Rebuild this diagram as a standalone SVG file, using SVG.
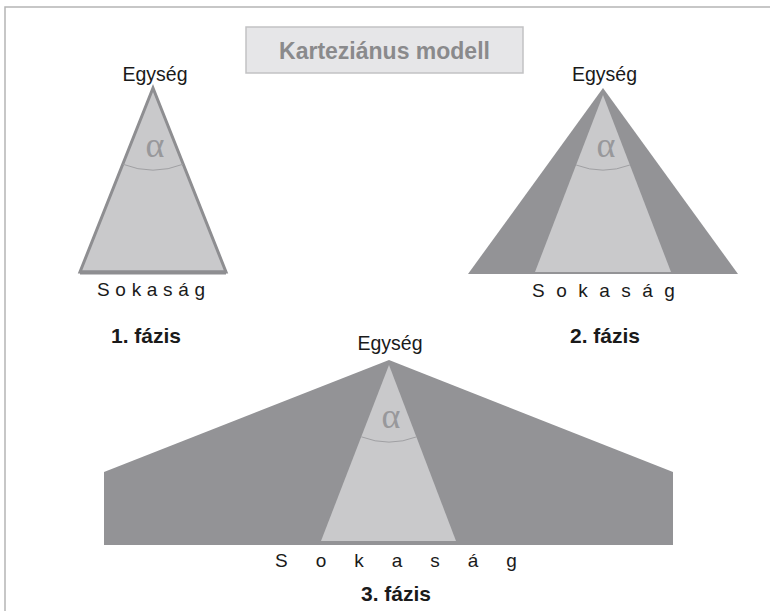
<svg xmlns="http://www.w3.org/2000/svg" width="770" height="611" viewBox="0 0 770 611">
<style>
.lbl{font-family:"Liberation Sans",Arial,sans-serif;font-size:19.5px;fill:#1a1a1a}
.sok{font-family:"Liberation Sans",Arial,sans-serif;font-size:19px;fill:#1a1a1a}
.ph{font-family:"Liberation Sans",Arial,sans-serif;font-size:21px;font-weight:bold;fill:#1a1a1a}
.alpha{font-family:"Liberation Serif","Times New Roman",serif;font-size:36px;fill:#98989b}
.arc{fill:none;stroke:#a0a0a3;stroke-width:1}
.light{fill:#c9c9cb}
.dark{fill:#939396}
</style>
<rect width="770" height="611" fill="#ffffff"/>
<path d="M5 611 V7 H770" fill="none" stroke="#b5b5b5" stroke-width="1.5"/>
<g id="title">
<rect x="246" y="27" width="277" height="46" fill="#e6e6e8" stroke="#c2c2c4" stroke-width="1.5"/>
<text x="384.5" y="59" text-anchor="middle" font-family="'Liberation Sans',Arial,sans-serif" font-size="23" font-weight="bold" fill="#8a8a8c">Karteziánus modell</text>
</g>
<g id="phase1">
<text class="lbl" x="155" y="81" text-anchor="middle">Egység</text>
<polygon class="light" points="153,88 80,272 226,272" stroke="#8e8e91" stroke-width="3" stroke-linejoin="miter"/>
<line x1="80" y1="272.5" x2="226" y2="272.5" stroke="#8e8e91" stroke-width="4"/>
<text class="alpha" x="155" y="157" text-anchor="middle">α</text>
<path class="arc" d="M122.8 164.2 A82 82 0 0 0 183.2 164.2"/>
<text class="sok" x="97" y="296" letter-spacing="5.7">Sokaság</text>
<text class="ph" x="111" y="343">1. fázis</text>
</g>
<g id="phase2">
<text class="lbl" x="604.5" y="81" text-anchor="middle">Egység</text>
<polygon class="dark" points="603,88 468,274 738,274"/>
<polygon class="light" points="603,95 535,272 671,272"/>
<text class="alpha" x="606" y="157" text-anchor="middle">α</text>
<path class="arc" d="M576.1 165 A75 75 0 0 0 629.9 165"/>
<text class="sok" x="532" y="297" letter-spacing="11.5">Sokaság</text>
<text class="ph" x="570" y="343">2. fázis</text>
</g>
<g id="phase3">
<text class="lbl" x="390" y="350" text-anchor="middle">Egység</text>
<polygon class="dark" points="389,360 673,472 673,545 104,545 104,472"/>
<polygon class="light" points="389,365 321,541 456,541"/>
<text class="alpha" x="391" y="428" text-anchor="middle">α</text>
<path class="arc" d="M361.3 436.8 A77 77 0 0 0 416.7 436.8"/>
<text class="sok" x="275" y="567" letter-spacing="28">Sokaság</text>
<text class="ph" x="396" y="601" text-anchor="middle" font-size="22">3. fázis</text>
</g>
</svg>
